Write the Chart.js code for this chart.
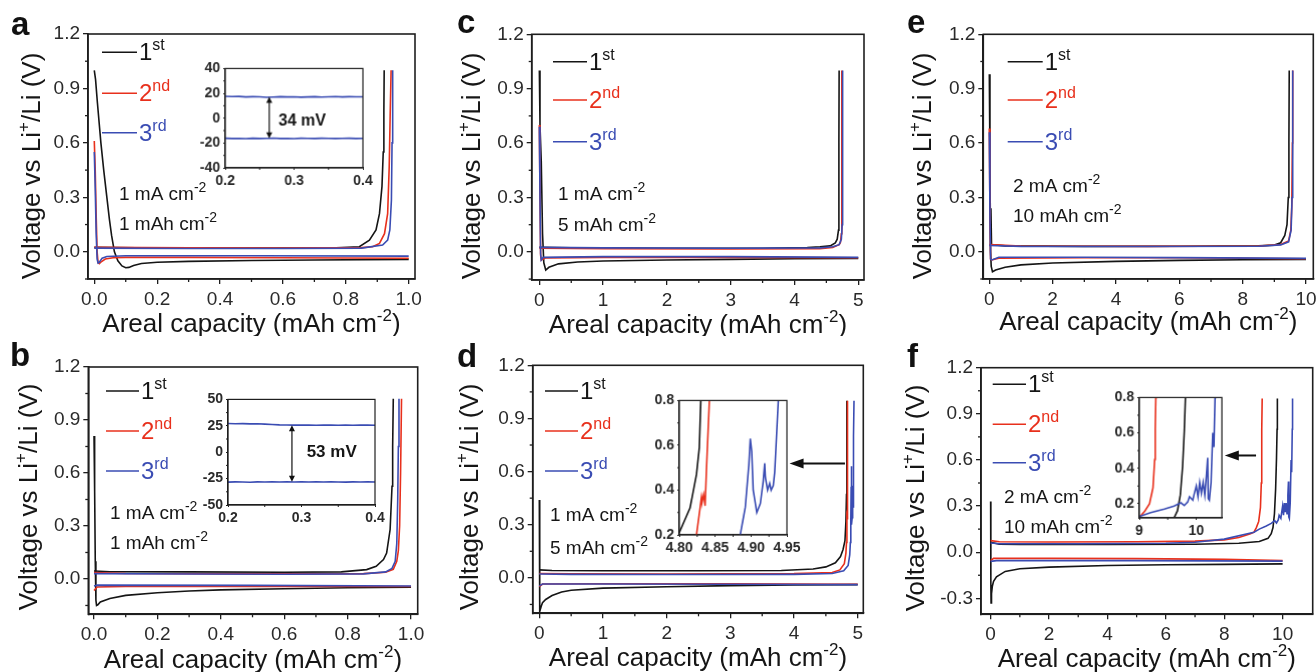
<!DOCTYPE html>
<html><head><meta charset="utf-8">
<script src="https://cdn.jsdelivr.net/npm/chart.js@4.4.1/dist/chart.umd.min.js"></script>
<style>
html,body{margin:0;padding:0;background:#fff;}
body{position:relative;width:1316px;height:672px;overflow:hidden;}
canvas{position:absolute;}
</style>
</head><body>
<script>
// ================= DATA =================
// series labels
const cycleNames = ['1', '2', '3'];
const cycleSup = ['st', 'nd', 'rd'];
const xTitleMain = 'Areal capacity (mAh cm';
const yTitleMain = 'Voltage vs Li';

// tick labels
const aXTicks = [0, 0.2, 0.4, 0.6, 0.8, 1.0];
const cXTicks = [0, 1, 2, 3, 4, 5];
const eXTicks = [0, 2, 4, 6, 8, 10];
const vTicks = [0, 0.3, 0.6, 0.9, 1.2];
const fYTicks = [-0.3, 0, 0.3, 0.6, 0.9, 1.2];
const insABXTicks = [0.2, 0.3, 0.4];
const insAYTicks = [-40, -20, 0, 20, 40];
const insBYTicks = [-50, -25, 0, 25, 50];
const insDXTicks = [4.80, 4.85, 4.90, 4.95];
const insDFYTicks = [0.2, 0.4, 0.6, 0.8];
const insFXTicks = [9, 10];

// panel a  (1 mA cm-2, 1 mAh cm-2)   [capacity, voltage]
const a1Plate = [[0,1.0],[0.004,0.95],[0.01,0.82],[0.021,0.6],[0.03,0.45],[0.04,0.3],[0.048,0.18],[0.055,0.09],[0.064,0.0],[0.075,-0.05],[0.088,-0.078],[0.1,-0.088],[0.11,-0.086],[0.125,-0.075],[0.15,-0.065],[0.2,-0.058],[0.3,-0.053],[0.5,-0.048],[0.7,-0.045],[1.0,-0.042]];
const a1Strip = [[0,0.024],[0.2,0.021],[0.5,0.02],[0.75,0.021],[0.843,0.028],[0.875,0.064],[0.896,0.12],[0.907,0.21],[0.915,0.36],[0.919,0.55],[0.921,0.78],[0.922,1.0]];
const a2Plate = [[0,0.61],[0.003,0.45],[0.006,0.2],[0.009,0.0],[0.012,-0.06],[0.016,-0.066],[0.022,-0.055],[0.035,-0.04],[0.06,-0.033],[0.1,-0.031],[0.3,-0.031],[0.6,-0.033],[1.0,-0.036]];
const a2Strip = [[0,0.025],[0.3,0.022],[0.6,0.021],[0.85,0.023],[0.885,0.028],[0.907,0.046],[0.923,0.1],[0.933,0.21],[0.938,0.47],[0.941,0.75],[0.944,1.0]];
const a3Plate = [[0,0.55],[0.003,0.35],[0.006,0.1],[0.009,-0.04],[0.012,-0.062],[0.016,-0.058],[0.025,-0.035],[0.04,-0.026],[0.1,-0.022],[0.5,-0.022],[1.0,-0.024]];
const a3Strip = [[0,0.02],[0.3,0.018],[0.6,0.018],[0.85,0.02],[0.917,0.037],[0.933,0.064],[0.94,0.12],[0.945,0.285],[0.947,0.6],[0.949,1.0]];
// inset a (mV)
const insAX = [0.20,0.21,0.22,0.23,0.24,0.25,0.26,0.27,0.28,0.29,0.30,0.31,0.32,0.33,0.34,0.35,0.36,0.37,0.38,0.39,0.40];
const insAUp = [17.6,17.4,17.5,17.1,17.3,17.2,16.8,17.0,17.3,17.1,17.2,16.9,17.1,17.3,17.0,17.2,17.4,17.1,17.3,17.2,17.2];
const insALow = [-16.2,-16.4,-16.3,-16.5,-16.2,-16.4,-16.3,-16.1,-16.4,-16.3,-16.5,-16.2,-16.3,-16.4,-16.2,-16.3,-16.4,-16.3,-16.2,-16.4,-16.3];

// panel b  (1 mA cm-2, 1 mAh cm-2)
const b1Plate = [[0,0.81],[0.002,0.5],[0.004,0.1],[0.006,-0.12],[0.008,-0.15],[0.012,-0.146],[0.02,-0.13],[0.05,-0.11],[0.1,-0.093],[0.2,-0.078],[0.3,-0.068],[0.4,-0.062],[0.6,-0.055],[0.8,-0.05],[1.0,-0.046]];
const b1Strip = [[0,0.045],[0.05,0.041],[0.3,0.04],[0.6,0.038],[0.78,0.04],[0.86,0.053],[0.89,0.072],[0.913,0.11],[0.923,0.147],[0.934,0.28],[0.94,0.525],[0.942,0.75],[0.944,1.02]];
const b2Plate = [[0,-0.065],[0.01,-0.045],[0.1,-0.042],[0.5,-0.042],[1.0,-0.043]];
const b2Strip = [[0,0.036],[0.1,0.031],[0.5,0.029],[0.85,0.03],[0.92,0.038],[0.944,0.055],[0.955,0.1],[0.96,0.16],[0.964,0.3],[0.967,0.6],[0.97,1.02]];
const b3Plate = [[0,-0.04],[0.01,-0.035],[0.5,-0.036],[1.0,-0.04]];
const b3Strip = [[0,0.03],[0.3,0.028],[0.6,0.027],[0.85,0.029],[0.92,0.04],[0.94,0.06],[0.95,0.1],[0.955,0.2],[0.958,0.45],[0.96,0.75],[0.962,1.02]];
// inset b (mV)
const insBX = [0.20,0.21,0.22,0.23,0.24,0.25,0.26,0.27,0.28,0.29,0.30,0.31,0.32,0.33,0.34,0.35,0.36,0.37,0.38,0.39,0.40];
const insBUp = [27.2,27.0,27.1,26.8,26.9,26.6,26.3,25.9,25.7,25.6,25.7,25.6,25.5,25.6,25.6,25.5,25.6,25.5,25.6,25.6,25.5];
const insBLow = [-28.3,-28.1,-28.2,-28.4,-28.1,-28.2,-28.1,-28.2,-28.1,-28.2,-28.0,-28.2,-28.1,-28.2,-28.0,-28.2,-28.3,-28.1,-28.2,-28.1,-28.2];

// panel c  (1 mA cm-2, 5 mAh cm-2)
const c1Plate = [[0,1.0],[0.01,0.7],[0.03,0.5],[0.05,0.1],[0.07,-0.06],[0.1,-0.1],[0.15,-0.085],[0.3,-0.066],[0.6,-0.056],[1,-0.05],[2,-0.045],[3,-0.041],[4,-0.038],[5,-0.036]];
const c1Strip = [[0,0.026],[0.5,0.022],[2,0.02],[3.5,0.02],[4.2,0.024],[4.4,0.028],[4.56,0.033],[4.64,0.05],[4.67,0.07],[4.69,0.12],[4.695,0.3],[4.698,0.6],[4.7,1.0]];
const c2Plate = [[0,0.7],[0.01,0.3],[0.02,-0.02],[0.03,-0.045],[0.1,-0.033],[1,-0.03],[3,-0.03],[5,-0.032]];
const c2Strip = [[0,0.02],[1,0.018],[3,0.016],[4.4,0.018],[4.6,0.025],[4.7,0.04],[4.72,0.05],[4.735,0.1],[4.74,0.3],[4.742,0.6],[4.745,1.0]];
const c3Plate = [[0,0.69],[0.01,0.3],[0.02,-0.01],[0.03,-0.045],[0.06,-0.03],[1,-0.026],[3,-0.026],[5,-0.03]];
const c3Strip = [[0,0.025],[1,0.022],[3,0.02],[4.4,0.022],[4.6,0.028],[4.7,0.04],[4.735,0.07],[4.748,0.15],[4.752,0.4],[4.755,0.7],[4.758,1.0]];

// panel d  (1 mA cm-2, 5 mAh cm-2)
const d1Plate = [[0,0.44],[0.003,0.1],[0.006,-0.15],[0.01,-0.19],[0.03,-0.16],[0.05,-0.14],[0.1,-0.122],[0.2,-0.1],[0.35,-0.08],[0.5,-0.07],[1,-0.058],[2,-0.05],[3,-0.044],[4,-0.04],[5,-0.038]];
const d1Strip = [[0,0.045],[0.2,0.042],[1,0.04],[2.5,0.04],[3.8,0.042],[4.3,0.05],[4.5,0.062],[4.65,0.085],[4.73,0.12],[4.77,0.16],[4.8,0.21],[4.815,0.32],[4.824,0.47],[4.828,0.59],[4.83,0.8],[4.832,1.0]];
const d2Plate = [[0,-0.05],[0.05,-0.035],[1,-0.033],[3,-0.034],[5,-0.036]];
const d2Strip = [[0,0.025],[0.5,0.023],[2,0.022],[4,0.024],[4.6,0.03],[4.72,0.045],[4.79,0.08],[4.815,0.14],[4.824,0.2],[4.829,0.32],[4.831,0.37],[4.832,0.35],[4.834,0.38],[4.836,0.33],[4.838,0.5],[4.842,0.8],[4.844,1.0]];
const d3Plate = [[0,-0.045],[0.05,-0.035],[1,-0.035],[3,-0.036],[5,-0.038]];
const d3Strip = [[0,0.022],[0.5,0.02],[2,0.019],[4,0.02],[4.6,0.025],[4.78,0.04],[4.85,0.07],[4.875,0.13],[4.885,0.2],[4.892,0.324],[4.897,0.515],[4.899,0.63],[4.901,0.573],[4.903,0.4],[4.908,0.3],[4.913,0.34],[4.917,0.44],[4.919,0.52],[4.92,0.456],[4.923,0.4],[4.926,0.43],[4.928,0.4],[4.931,0.42],[4.933,0.48],[4.938,0.8],[4.942,1.0]];

// panel e  (2 mA cm-2, 10 mAh cm-2)
const e1Plate = [[0,0.98],[0.02,0.5],[0.04,0.0],[0.06,-0.08],[0.1,-0.11],[0.2,-0.1],[0.5,-0.085],[1,-0.072],[2,-0.062],[4,-0.053],[6,-0.047],[8,-0.044],[10,-0.042]];
const e1Strip = [[0.05,0.24],[0.07,0.04],[0.5,0.033],[3,0.03],[6,0.031],[8.5,0.033],[9.0,0.037],[9.2,0.05],[9.33,0.09],[9.4,0.15],[9.44,0.3],[9.46,0.6],[9.47,1.0]];
const e2Plate = [[0,0.68],[0.02,0.2],[0.04,-0.04],[0.08,-0.045],[0.3,-0.035],[3,-0.033],[6,-0.033],[10,-0.038]];
const e2Strip = [[0,0.04],[1,0.032],[5,0.03],[8.5,0.032],[9.2,0.04],[9.45,0.06],[9.52,0.12],[9.55,0.25],[9.57,0.6],[9.58,1.0]];
const e3Plate = [[0,0.66],[0.02,0.2],[0.04,-0.04],[0.08,-0.045],[0.3,-0.03],[3,-0.03],[6,-0.032],[10,-0.036]];
const e3Strip = [[0,0.035],[1,0.03],[5,0.029],[8.5,0.031],[9.2,0.038],[9.45,0.055],[9.53,0.12],[9.56,0.3],[9.575,0.6],[9.585,1.0]];

// panel f  (2 mA cm-2, 10 mAh cm-2)
const f1Plate = [[0,0.33],[0.005,0.0],[0.01,-0.2],[0.015,-0.33],[0.03,-0.27],[0.06,-0.22],[0.1,-0.19],[0.2,-0.16],[0.5,-0.125],[1,-0.108],[2,-0.097],[4,-0.087],[6,-0.082],[8,-0.079],[10,-0.076]];
const f1Strip = [[0,0.065],[0.3,0.052],[1,0.05],[4,0.05],[7,0.052],[8.5,0.058],[9.2,0.07],[9.5,0.09],[9.61,0.12],[9.67,0.16],[9.72,0.25],[9.76,0.41],[9.79,0.61],[9.81,0.8],[9.82,1.0]];
const f2Plate = [[0,-0.055],[0.1,-0.04],[2,-0.04],[5,-0.042],[8,-0.047],[10,-0.055]];
const f2Strip = [[0,0.075],[0.3,0.068],[2,0.066],[5,0.068],[7,0.072],[8,0.08],[8.5,0.095],[8.9,0.12],[9.02,0.13],[9.1,0.16],[9.18,0.2],[9.24,0.29],[9.27,0.45],[9.28,0.62],[9.29,0.8],[9.3,1.0]];
const f3Plate = [[0,-0.06],[0.2,-0.055],[5,-0.055],[10,-0.058]];
const f3Strip = [[0,0.06],[0.3,0.055],[3,0.055],[6,0.058],[7,0.065],[8,0.085],[9.02,0.13],[9.2,0.15],[9.44,0.17],[9.61,0.187],[9.73,0.205],[9.79,0.19],[9.85,0.21],[9.88,0.24],[9.94,0.22],[9.96,0.25],[10.0,0.3],[10.03,0.24],[10.06,0.32],[10.09,0.26],[10.12,0.32],[10.15,0.25],[10.18,0.37],[10.2,0.46],[10.21,0.23],[10.23,0.22],[10.26,0.32],[10.29,0.6],[10.31,0.52],[10.33,0.8],[10.34,1.0]];

// ================= DRAWING =================
const FF = '"Liberation Sans", Arial, Helvetica, sans-serif';
const COL = {k:'#151515', r:'#e8301c', b:'#3a4cb3'};
const SPECS = {};

function rich(ctx, parts, x, y, size, supSize, align, color, weight){
  const w8 = weight || 'normal';
  let w = 0;
  parts.forEach(p => { ctx.font = w8 + ' ' + (p[1] ? supSize : size) + 'px ' + FF; w += ctx.measureText(p[0]).width; });
  let cx = align === 'center' ? x - w/2 : x;
  ctx.fillStyle = color; ctx.textAlign = 'left'; ctx.textBaseline = 'alphabetic';
  parts.forEach(p => {
    ctx.font = w8 + ' ' + (p[1] ? supSize : size) + 'px ' + FF;
    ctx.fillText(p[0], cx, p[1] ? y - size*0.42 : y);
    cx += ctx.measureText(p[0]).width;
  });
}

function arrowLeft(ctx, x1, x2, y){
  ctx.lineWidth = 2; ctx.strokeStyle = '#111'; ctx.fillStyle = '#111';
  ctx.beginPath(); ctx.moveTo(x1, y); ctx.lineTo(x2 + 10, y); ctx.stroke();
  ctx.beginPath(); ctx.moveTo(x2, y); ctx.lineTo(x2 + 14, y - 5); ctx.lineTo(x2 + 14, y + 5); ctx.closePath(); ctx.fill();
}
function arrowDouble(ctx, x, y1, y2){
  ctx.lineWidth = 1.2; ctx.strokeStyle = '#111'; ctx.fillStyle = '#111';
  ctx.beginPath(); ctx.moveTo(x, y1 + 4); ctx.lineTo(x, y2 - 4); ctx.stroke();
  ctx.beginPath(); ctx.moveTo(x, y1); ctx.lineTo(x - 3, y1 + 6); ctx.lineTo(x + 3, y1 + 6); ctx.closePath(); ctx.fill();
  ctx.beginPath(); ctx.moveTo(x, y2); ctx.lineTo(x - 3, y2 - 6); ctx.lineTo(x + 3, y2 - 6); ctx.closePath(); ctx.fill();
}

const deco = {
  id: 'deco',
  afterDraw(chart){
    const p = SPECS[chart.canvas.id]; if (!p) return;
    const ctx = chart.ctx, a = chart.chartArea, xs = chart.scales.x, ys = chart.scales.y;
    const ox = p.canvas[0], oy = p.canvas[1];
    ctx.save();
    ctx.strokeStyle = '#1e1e1e';
    ctx.lineWidth = p.inset ? 1.2 : 1.6;
    ctx.strokeRect(a.left, a.top, a.right - a.left, a.bottom - a.top);
    // minor ticks
    const ml = p.inset ? 2 : 3;
    ctx.lineWidth = p.inset ? 1 : 1.3;
    p.xm.forEach(v => { const X = xs.getPixelForValue(v); if (X < a.left-0.5 || X > a.right+0.5) return;
      ctx.beginPath(); ctx.moveTo(X, a.bottom); ctx.lineTo(X, a.bottom + ml); ctx.stroke(); });
    p.ym.forEach(v => { const Y = ys.getPixelForValue(v); if (Y < a.top-0.5 || Y > a.bottom+0.5) return;
      ctx.beginPath(); ctx.moveTo(a.left, Y); ctx.lineTo(a.left - ml, Y); ctx.stroke(); });
    if (p.draw) p.draw(ctx, xs, ys, ox, oy);
    ctx.restore();
  }
};

function ser(arr, col, w){
  return {data: arr.map(q => ({x: q[0], y: q[1]})), showLine: true, borderColor: col, backgroundColor: col,
          borderWidth: w, pointRadius: 0, pointHoverRadius: 0, fill: false};
}

function build(spec, datasets){
  const [cx, cy, cw, ch] = spec.canvas;
  const [L, T, R, B] = spec.plot;
  const cv = document.createElement('canvas');
  cv.id = spec.id; cv.width = cw; cv.height = ch;
  cv.style.left = cx + 'px'; cv.style.top = cy + 'px';
  cv.style.width = cw + 'px'; cv.style.height = ch + 'px';
  document.body.appendChild(cv);
  SPECS[spec.id] = spec;
  const ins = !!spec.inset;
  const tickFont = ins ? {family: FF, size: 14, weight: 'bold'} : {family: FF, size: 19};
  const axis = (arr, dec, pad) => ({
    type: 'linear',
    afterBuildTicks: s => { s.ticks = arr.map(v => ({value: v})); },
    ticks: {callback: v => Number(v).toFixed(dec), font: tickFont, color: '#2a2a2a', padding: pad,
            autoSkip: false, maxRotation: 0, minRotation: 0},
    grid: {drawOnChartArea: false, drawTicks: true, tickLength: ins ? 2 : 5, color: '#1e1e1e', lineWidth: ins ? 1 : 1.3},
    border: {display: true, color: '#1e1e1e', width: ins ? 1.2 : 1.6}
  });
  const xsc = Object.assign(axis(spec.xt, spec.xd, ins ? 3 : 4), {min: spec.x[0], max: spec.x[1], afterFit: s => { s.height = cy + ch - B; }});
  const ysc = Object.assign(axis(spec.yt, spec.yd, ins ? 3 : 3), {min: spec.y[0], max: spec.y[1], afterFit: s => { s.width = L - cx; }});
  new Chart(cv, {
    type: 'scatter',
    data: {datasets},
    options: {
      responsive: false, animation: false, events: [], devicePixelRatio: 1,
      layout: {padding: {left: 0, right: cx + cw - R, top: T - cy, bottom: 0}},
      elements: {point: {radius: 0}, line: {tension: 0}},
      plugins: {legend: {display: false}, tooltip: {enabled: false}},
      scales: {x: xsc, y: ysc}
    },
    plugins: [deco]
  });
}

const XT = [[xTitleMain, 0], ['-2', 1], [')', 0]];
const YT = [[yTitleMain, 0], ['+', 1], ['/Li (V)', 0]];

function mainDraw(p){
  return function(ctx, xs, ys, ox, oy){
    // panel letter
    ctx.fillStyle = '#111'; ctx.font = 'bold 33px ' + FF; ctx.textAlign = 'left'; ctx.textBaseline = 'alphabetic';
    ctx.fillText(p.letter[0], p.letter[1] - ox, p.letter[2] - oy);
    // axis titles
    rich(ctx, XT, p.xTitle[0] - ox, p.xTitle[1] - oy, 26, 17, 'center', '#161616');
    ctx.save(); ctx.translate(p.yTitle[0] - ox, p.yTitle[1] - oy); ctx.rotate(-Math.PI/2);
    rich(ctx, YT, 0, 0, 26, 17, 'center', '#161616'); ctx.restore();
    // legend
    const cols = [COL.k, COL.r, COL.b];
    p.leg.rows.forEach((ly, i) => {
      ctx.strokeStyle = cols[i]; ctx.lineWidth = 1.6;
      ctx.beginPath(); ctx.moveTo(p.leg.x0 - ox, ly - oy); ctx.lineTo(p.leg.x1 - ox, ly - oy); ctx.stroke();
      rich(ctx, [[cycleNames[i], 0], [cycleSup[i], 1]], p.leg.x1 + 2 - ox, ly + 8 - oy, 24, 16, 'left', cols[i]);
    });
    // conditions
    p.cond.lines.forEach((t, i) => {
      rich(ctx, [[t, 0], ['-2', 1]], p.cond.x - ox, p.cond.rows[i] - oy, 19, 14, 'left', '#161616');
    });
    if (p.arrow) {
      const y = ys.getPixelForValue(p.arrow[2]);
      arrowLeft(ctx, xs.getPixelForValue(p.arrow[0]), xs.getPixelForValue(p.arrow[1]), y);
    }
  };
}

const mainSpecs = [
  {id:'pa', canvas:[0,0,440,336], plot:[88,34,415,279], x:[-0.02,1.02], y:[-0.15,1.2], xt:aXTicks, xd:1, xm:[0.1,0.3,0.5,0.7,0.9], yt:vTicks, yd:1, ym:[-0.15,0.15,0.45,0.75,1.05],
   letter:['a',11,35], yTitle:[40,166], xTitle:[251.5,331.5], leg:{x0:102,x1:137,rows:[52.3,93.3,132.7]},
   cond:{x:119, rows:[200,230], lines:['1 mA cm','1 mAh cm']},
   sets:[[a3Plate,'b'],[a3Strip,'b'],[a2Plate,'r'],[a2Strip,'r'],[a1Plate,'k'],[a1Strip,'k']]},
  {id:'pc', canvas:[440,0,436,336], plot:[531.7,34.3,864,280], x:[-0.12,5.09], y:[-0.155,1.2], xt:cXTicks, xd:0, xm:[0.5,1.5,2.5,3.5,4.5], yt:vTicks, yd:1, ym:[-0.15,0.15,0.45,0.75,1.05],
   letter:['c',457,33], yTitle:[480,166], xTitle:[698,333], leg:{x0:553,x1:587,rows:[61.7,100,141.7]},
   cond:{x:558, rows:[200,231], lines:['1 mA cm','5 mAh cm']},
   sets:[[c3Plate,'b'],[c3Strip,'b'],[c2Plate,'r'],[c2Strip,'r'],[c1Plate,'k'],[c1Strip,'k']]},
  {id:'pe', canvas:[876,0,470,336], plot:[983.3,34.3,1313.3,279], x:[-0.19,10.23], y:[-0.15,1.2], xt:eXTicks, xd:0, xm:[1,3,5,7,9], yt:vTicks, yd:1, ym:[-0.15,0.15,0.45,0.75,1.05],
   letter:['e',907,33], yTitle:[931,166], xTitle:[1148.3,330], leg:{x0:1007.7,x1:1042.7,rows:[61.7,100,141.7]},
   cond:{x:1013, rows:[192,222], lines:['2 mA cm','10 mAh cm']},
   sets:[[e3Plate,'b'],[e3Strip,'b'],[e2Plate,'r'],[e2Strip,'r'],[e1Plate,'k'],[e1Strip,'k']]},
  {id:'pb', canvas:[0,336,440,336], plot:[88.3,367,417.7,614.3], x:[-0.018,1.021], y:[-0.2,1.2], xt:aXTicks, xd:1, xm:[0.1,0.3,0.5,0.7,0.9], yt:vTicks, yd:1, ym:[-0.15,0.15,0.45,0.75,1.05],
   letter:['b',10,366], yTitle:[37,497], xTitle:[253,668], leg:{x0:106,x1:139,rows:[391,431,471]},
   cond:{x:110, rows:[519,549], lines:['1 mA cm','1 mAh cm']},
   sets:[[b3Plate,'b'],[b3Strip,'b'],[b2Plate,'r'],[b2Strip,'r'],[b1Plate,'k'],[b1Strip,'k']]},
  {id:'pd', canvas:[440,336,436,336], plot:[532.7,365.3,863.3,613.3], x:[-0.104,5.088], y:[-0.2,1.2], xt:cXTicks, xd:0, xm:[0.5,1.5,2.5,3.5,4.5], yt:vTicks, yd:1, ym:[-0.15,0.15,0.45,0.75,1.05],
   letter:['d',457,367], yTitle:[478,497], xTitle:[698,666], leg:{x0:545,x1:578,rows:[391,431,471]},
   cond:{x:550, rows:[521,554], lines:['1 mA cm','5 mAh cm']}, arrow:[4.8,3.93,0.646],
   sets:[[d3Plate,'b'],[d3Strip,'b'],[d2Plate,'r'],[d2Strip,'r'],[d1Plate,'k'],[d1Strip,'k']]},
  {id:'pf', canvas:[876,336,470,336], plot:[981,367.7,1312.7,614.3], x:[-0.33,11.03], y:[-0.404,1.2], xt:eXTicks, xd:0, xm:[1,3,5,7,9], yt:fYTicks, yd:1, ym:[-0.15,0.15,0.45,0.75,1.05],
   letter:['f',907,367], yTitle:[924,498], xTitle:[1146.8,667], leg:{x0:992.7,x1:1026,rows:[384.3,424.3,462.7]},
   cond:{x:1004, rows:[503,533], lines:['2 mA cm','10 mAh cm']}, arrow:[9.09,8.02,0.629],
   sets:[[f3Plate,'b'],[f3Strip,'b'],[f2Plate,'r'],[f2Strip,'r'],[f1Plate,'k'],[f1Strip,'k']]}
];

mainSpecs.forEach(p => {
  p.draw = mainDraw(p);
  build(p, p.sets.map(s => ser(s[0], COL[s[1]], 1.6)));
});

// ---------- insets ----------
function insetCanvas(box){ return [box[0]-40, box[1]-9, (box[2]-box[0]) + 40 + 18, (box[3]-box[1]) + 9 + 22]; }
function zip(xs, ys){ return xs.map((x, i) => [x, ys[i]]); }

const insetSpecs = [
  {id:'ia', inset:true, plot:[225,66,362.7,167.7], x:[0.2,0.4], y:[-40,40], xt:insABXTicks, xd:1, xm:[0.25,0.35], yt:insAYTicks, yd:0, ym:[-30,-10,10,30],
   sets:[[zip(insAX, insAUp),'b'],[zip(insAX, insALow),'b']],
   note:{text:'34 mV', x:0.2774, y:-2.4, size:16, arrow:[0.264, 17.2, -16.3]}},
  {id:'ib', inset:true, plot:[227.7,397,375,505.3], x:[0.2,0.4], y:[-50,50], xt:insABXTicks, xd:1, xm:[0.25,0.35], yt:insBYTicks, yd:0, ym:[-37.5,-12.5,12.5,37.5],
   sets:[[zip(insBX, insBUp),'b'],[zip(insBX, insBLow),'b']],
   note:{text:'53 mV', x:0.307, y:0, size:17, arrow:[0.287, 25.6, -28.1]}},
  {id:'id', inset:true, plot:[679,398.3,786.7,535], x:[4.8,4.95], y:[0.2,0.8], xt:insDXTicks, xd:2, xm:[4.825,4.875,4.925], yt:insDFYTicks, yd:1, ym:[0.3,0.5,0.7],
   sets:[[d3Strip,'b'],[d2Strip,'r'],[d1Strip,'k']]},
  {id:'if', inset:true, plot:[1139.3,395,1221.7,517.7], x:[9,10.45], y:[0.12,0.8], xt:insFXTicks, xd:0, xm:[9.5], yt:insDFYTicks, yd:1, ym:[0.3,0.5,0.7],
   sets:[[f3Strip,'b'],[f2Strip,'r'],[f1Strip,'k']]}
];

insetSpecs.forEach(p => {
  p.canvas = insetCanvas(p.plot);
  if (p.note) {
    const n = p.note;
    p.draw = function(ctx, xs, ys){
      arrowDouble(ctx, xs.getPixelForValue(n.arrow[0]), ys.getPixelForValue(n.arrow[1]), ys.getPixelForValue(n.arrow[2]));
      ctx.fillStyle = '#161616'; ctx.font = 'bold ' + n.size + 'px ' + FF; ctx.textAlign = 'left'; ctx.textBaseline = 'middle';
      ctx.fillText(n.text, xs.getPixelForValue(n.x), ys.getPixelForValue(n.y));
    };
  }
  build(p, p.sets.map(s => ser(s[0], COL[s[1]], 1.6)));
});
</script>
</body></html>
